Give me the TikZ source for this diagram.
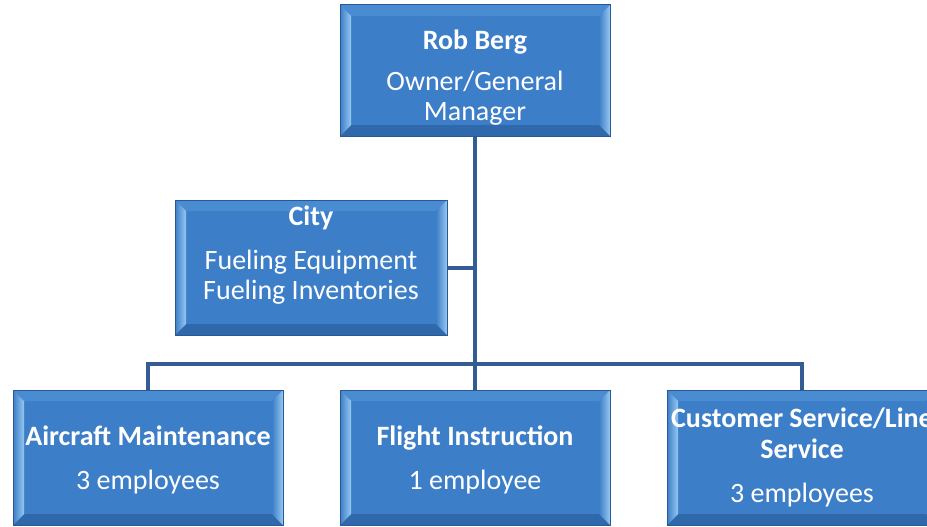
\documentclass[tikz,border=0pt]{standalone}
\usepackage{fontspec}
\setmainfont{Carlito}
\usetikzlibrary{calc}

\definecolor{cajaAzul}{RGB}{60,126,200}
\definecolor{cajaBorde}{RGB}{40,88,150}
\definecolor{biselArriba}{RGB}{74,140,210}
\definecolor{biselAbajo}{RGB}{48,104,172}
\definecolor{biselClaro}{RGB}{150,200,240}
\definecolor{lineaAzul}{RGB}{52,92,148}

\newcommand{\bisel}{11pt}

\tikzset{
  caja/.style={rectangle, minimum width=270pt, minimum height=133pt, inner sep=0pt,
    fill=cajaAzul, draw=cajaBorde, line width=1pt, text=white, align=center,
    font=\fontsize{28}{30}\selectfont,
    path picture={
      % biseles de la caja
      \fill[biselArriba] (path picture bounding box.north west) -- (path picture bounding box.north east)
        -- ([shift={(-\bisel,-\bisel)}]path picture bounding box.north east)
        -- ([shift={(\bisel,-\bisel)}]path picture bounding box.north west) -- cycle;
      \fill[biselAbajo] (path picture bounding box.south west) -- (path picture bounding box.south east)
        -- ([shift={(-\bisel,\bisel)}]path picture bounding box.south east)
        -- ([shift={(\bisel,\bisel)}]path picture bounding box.south west) -- cycle;
      \shade[left color=cajaAzul, right color=biselClaro] (path picture bounding box.north west)
        -- ([shift={(\bisel,-\bisel)}]path picture bounding box.north west)
        -- ([shift={(\bisel,\bisel)}]path picture bounding box.south west)
        -- (path picture bounding box.south west) -- cycle;
      \shade[left color=cajaAzul, right color=biselClaro] (path picture bounding box.north east)
        -- ([shift={(-\bisel,-\bisel)}]path picture bounding box.north east)
        -- ([shift={(-\bisel,\bisel)}]path picture bounding box.south east)
        -- (path picture bounding box.south east) -- cycle;
    }},
  linea/.style={draw=lineaAzul, line width=4pt},
}

\begin{document}
\begin{tikzpicture}[x=1pt,y=-1pt]
    % Marco de la figura
    \useasboundingbox (0,0) rectangle (927,527);
    \clip (0,0) rectangle (927,527);

    % Cajas del organigrama
    \node[caja, minimum height=131pt] (rob) at (475,70.5)
      {\rule{0pt}{33pt}\textbf{Rob Berg}\\[11pt]Owner/General\\Manager};
    \node[caja, minimum width=272pt, minimum height=135pt] (city) at (311,267.5)
      {\textbf{City}\\[14pt]Fueling Equipment\\Fueling Inventories\rule[-30pt]{0pt}{30pt}};
    \node[caja, minimum height=135pt] (maint) at (148,457.5)
      {\rule{0pt}{25pt}\textbf{Aircraft Maintenance}\\[14pt]3 employees};
    \node[caja, minimum height=135pt] (flight) at (475,457.5)
      {\rule{0pt}{25pt}\textbf{Flight Instruction}\\[14pt]1 employee};
    \node[caja, minimum height=135pt] (service) at (802,457.5)
      {\textbf{Customer Service/Line}\\[1pt]\textbf{Service}\\[14pt]3 employees};

    % Punto auxiliar de la barra horizontal
    \coordinate (barra) at (475,364);

    % Conectores
    \draw[linea] (rob.south) -- (flight.north);
    \draw[linea] (maint.north) |- (barra) -| (service.north);
    \draw[linea] (city.east) -- (city.east -| rob.south);
\end{tikzpicture}
\end{document}
